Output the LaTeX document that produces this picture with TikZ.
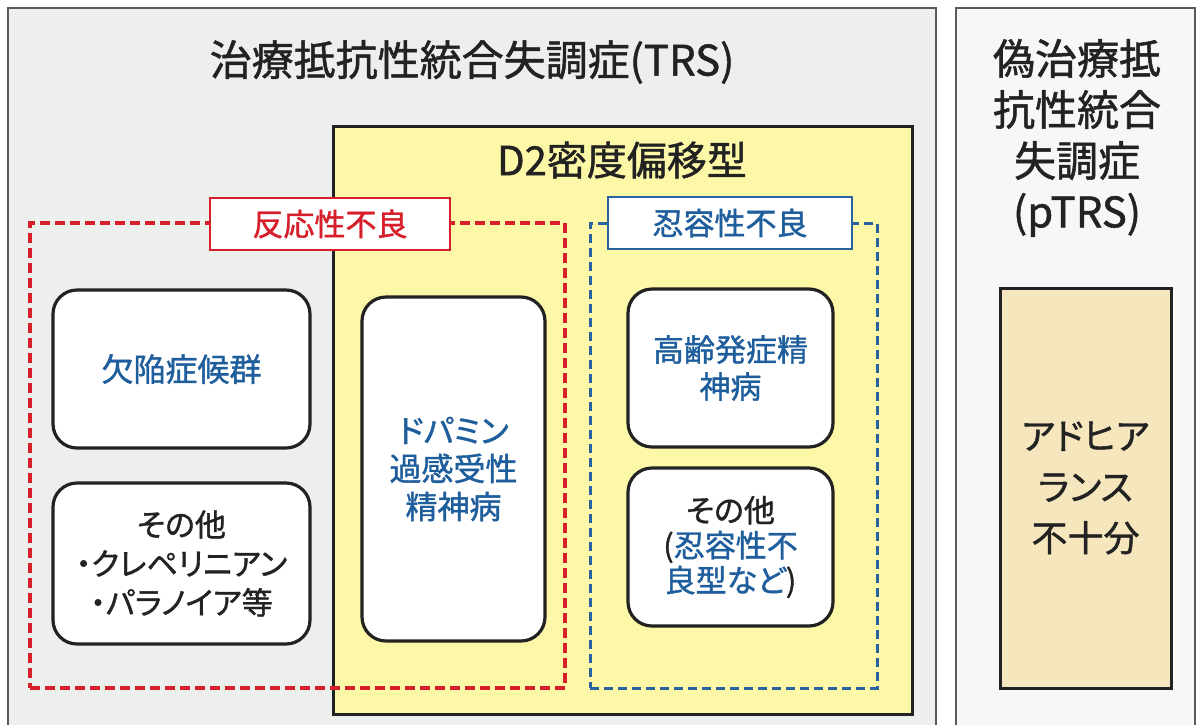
\documentclass[tikz,border=0pt]{standalone}
\usepackage{fontspec}
\setmainfont{Noto Sans CJK JP}[RawFeature=+palt, FakeBold=1.2]
\definecolor{trsbg}{HTML}{EDEFEC}
\definecolor{ptrsbg}{HTML}{F7F7F5}
\definecolor{ylw}{HTML}{FDF8A8}
\definecolor{tan}{HTML}{F6E6BE}
\definecolor{txtblue}{HTML}{1F5E9C}
\definecolor{txtred}{HTML}{D71F2B}
\definecolor{dashblue}{HTML}{2A62A0}
\definecolor{framegray}{HTML}{5A5A5A}
\definecolor{ink}{HTML}{222222}
\tikzset{
  outerbox/.style={draw=framegray, line width=2pt, inner sep=0pt, anchor=center},
  roundbox/.style={draw=ink, fill=white, line width=3.2pt, rounded corners=24pt, inner sep=0pt, align=center, text=txtblue},
  redframe/.style={draw=txtred, line width=3.5pt, dash pattern=on 10pt off 5pt, inner sep=0pt},
  blueframe/.style={draw=dashblue, line width=3pt, dash pattern=on 9pt off 5pt, inner sep=0pt},
  labelbox/.style={fill=white, line width=1.5pt, inner sep=0pt, minimum width=#1, minimum height=52pt},
  boxfont/.style={font=\fontsize{32}{38}\selectfont},
}
\begin{document}
\begin{tikzpicture}[x=1pt,y=-1pt]
\useasboundingbox (0,0) rectangle (1198,724);
\clip (0,0) rectangle (1198,724);
\fill[white] (0,0) rectangle (1198,724);
% outer boxes
\node[outerbox, fill=trsbg, minimum width=928pt, minimum height=727pt] (trs) at (472,371.5) {};
\node[outerbox, fill=ptrsbg, minimum width=239pt, minimum height=727pt] (ptrs) at (1075.5,371.5) {};
\node[text=ink, font=\fontsize{42}{50}\selectfont] (trstitle) at (472,62) {治療抵抗性統合失調症(TRS)};
\node[text=ink, align=center, font=\fontsize{42}{51}\selectfont] (ptrstitle) at (1077,138) {偽治療抵\\抗性統合\\失調症\\(pTRS)};
% D2 box
\node[draw=ink, fill=ylw, line width=3pt, inner sep=0pt, minimum width=579pt, minimum height=588pt] (d2) at (622.5,420) {};
\node[text=ink, font=\fontsize{40}{48}\selectfont] (d2title) at (622,160) {D2密度偏移型};
% dashed groups
\node[redframe, minimum width=535pt, minimum height=465pt] (redgrp) at (297.5,455.5) {};
\node[blueframe, minimum width=287pt, minimum height=465pt] (bluegrp) at (733.5,455.5) {};
\node[labelbox=240pt, draw=txtred, text=txtred, font=\fontsize{31}{36}\selectfont] (redlbl) at (330,224) {反応性不良};
\node[labelbox=244pt, draw=dashblue, text=txtblue, font=\fontsize{31}{36}\selectfont] (bluelbl) at (730,223) {忍容性不良};
% rounded boxes
\node[roundbox, boxfont, minimum width=257pt, minimum height=158pt] (kekkan) at (181.5,369) {欠陥症候群};
\node[roundbox, boxfont, text=ink, minimum width=257pt, minimum height=161pt, font=\fontsize{31}{39}\selectfont] (sonota1) at (181.5,563.5) {その他\\・クレペリニアン\\・パラノイア等};
\node[roundbox, boxfont, minimum width=183pt, minimum height=344pt] (dopa) at (453.5,469) {ドパミン\\過感受性\\精神病};
\node[roundbox, boxfont, minimum width=205pt, minimum height=158pt, font=\fontsize{31}{37}\selectfont] (kourei) at (730.5,368) {高齢発症精\\神病};
\node[roundbox, minimum width=205pt, minimum height=158pt, font=\fontsize{31}{35}\selectfont] (sonota2) at (730.5,547) {\textcolor{ink}{その他}\\\textcolor{ink}{(}忍容性不\\良型など\textcolor{ink}{)}};
% pTRS inner box
\node[draw=ink, fill=tan, line width=3pt, inner sep=0pt, minimum width=171pt, minimum height=400pt, align=center, text=ink, font=\fontsize{36}{51}\selectfont] (adh) at (1085.5,488) {アドヒア\\ランス\\不十分};
\end{tikzpicture}
\end{document}
